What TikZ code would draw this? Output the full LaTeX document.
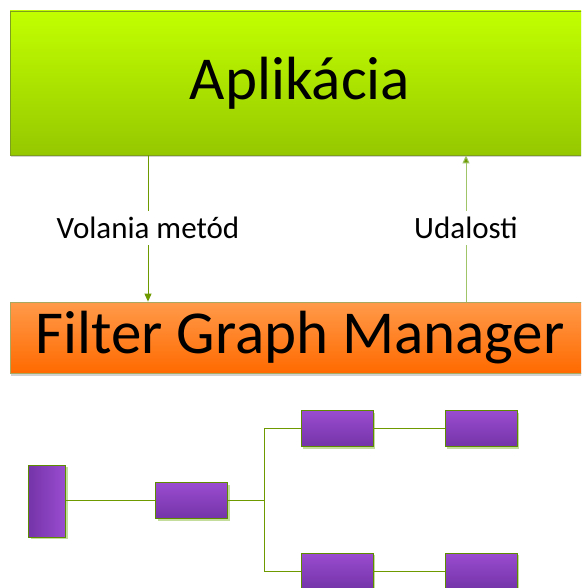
\documentclass[tikz,border=0pt]{standalone}
\usepackage{fontspec}
\setmainfont{Carlito}
\usetikzlibrary{arrows.meta,shadows}
\definecolor{gtop}{HTML}{C2FF00}
\definecolor{gbot}{HTML}{96C800}
\definecolor{gborder}{HTML}{7E9E1E}
\definecolor{otop}{HTML}{FF9A4A}
\definecolor{obot}{HTML}{FF6A00}
\definecolor{oborder}{HTML}{A8A860}
\definecolor{ptop}{HTML}{9A4CD0}
\definecolor{pbot}{HTML}{7434A8}
\definecolor{pborder}{HTML}{5E8C00}
\definecolor{pshadow}{HTML}{C4DC9C}
\definecolor{linedark}{HTML}{6E9A00}
\definecolor{linelight}{HTML}{A0C468}
\tikzset{
  appbox/.style={draw=gborder, line width=0.8pt, top color=gtop, bottom color=gbot,
    drop shadow={shadow xshift=1pt, shadow yshift=-2.5pt, fill=black!30, opacity=0.6},
    minimum width=580pt, minimum height=144pt, inner sep=0pt, font=\fontsize{61}{61}\selectfont},
  fgmbox/.style={draw=oborder, line width=0.8pt, top color=otop, bottom color=obot,
    drop shadow={shadow xshift=1pt, shadow yshift=-2.5pt, fill=black!30, opacity=0.6},
    minimum width=580pt, minimum height=71pt, inner sep=0pt, font=\fontsize{61}{61}\selectfont},
  filt/.style={draw=pborder, line width=0.8pt, top color=ptop, bottom color=pbot,
    drop shadow={shadow xshift=2pt, shadow yshift=-2pt, fill=pshadow, opacity=1},
    minimum width=72pt, minimum height=36pt, inner sep=0pt},
  filtv/.style={draw=pborder, line width=0.8pt, left color=pbot, right color=ptop,
    drop shadow={shadow xshift=2pt, shadow yshift=-2pt, fill=pshadow, opacity=1},
    minimum width=37pt, minimum height=72pt, inner sep=0pt},
  lbl/.style={font=\fontsize{31}{31}\selectfont, inner xsep=1pt, inner ysep=6pt, fill=white},
  tree/.style={draw=linedark, line width=1pt},
  callarrow/.style={draw=linedark, line width=1pt, -{Triangle[length=8pt,width=7pt]}},
  evtarrow/.style={draw=linelight, line width=1pt, -{Triangle[length=8pt,width=7pt,fill=linedark]}}
}
\begin{document}
\begin{tikzpicture}[x=1pt,y=-1pt]
\useasboundingbox (0,0) rectangle (581,588);
\clip (0,0) rectangle (581,588);
\node[appbox] (app) at (300,83) {Aplikácia};
\node[fgmbox] (fgm) at (300,337.5) {Filter Graph Manager};
\node[lbl] (l1) at (148,228) {Volania metód};
\node[lbl] (l2) at (466,228) {Udalosti};
\draw[tree] (148,0 |- app.south) -- (l1.north -| 148,0);
\draw[callarrow] (l1.south -| 148,0) -- (148,0 |- fgm.north);
\draw[evtarrow] (l2.north -| 466,0) -- (466,0 |- app.south);
\draw[tree, draw=linelight] (466,0 |- fgm.north) -- (l2.south -| 466,0);
\node[filtv] (a) at (47,501) {};
\node[filt] (b) at (191.5,500.5) {};
\node[filt] (c) at (337,428.5) {};
\node[filt] (d) at (481,428.5) {};
\node[filt] (e) at (337,571) {};
\node[filt] (f) at (481,571) {};
\coordinate (j) at (264,500.5);
\draw[tree] (a.east |- b.west) -- (b.west);
\draw[tree] (b.east) -- (j);
\draw[tree] (j) |- (c.west);
\draw[tree] (j) |- (e.west);
\draw[tree] (c.east) -- (d.west);
\draw[tree] (e.east) -- (f.west);
\end{tikzpicture}
\end{document}
